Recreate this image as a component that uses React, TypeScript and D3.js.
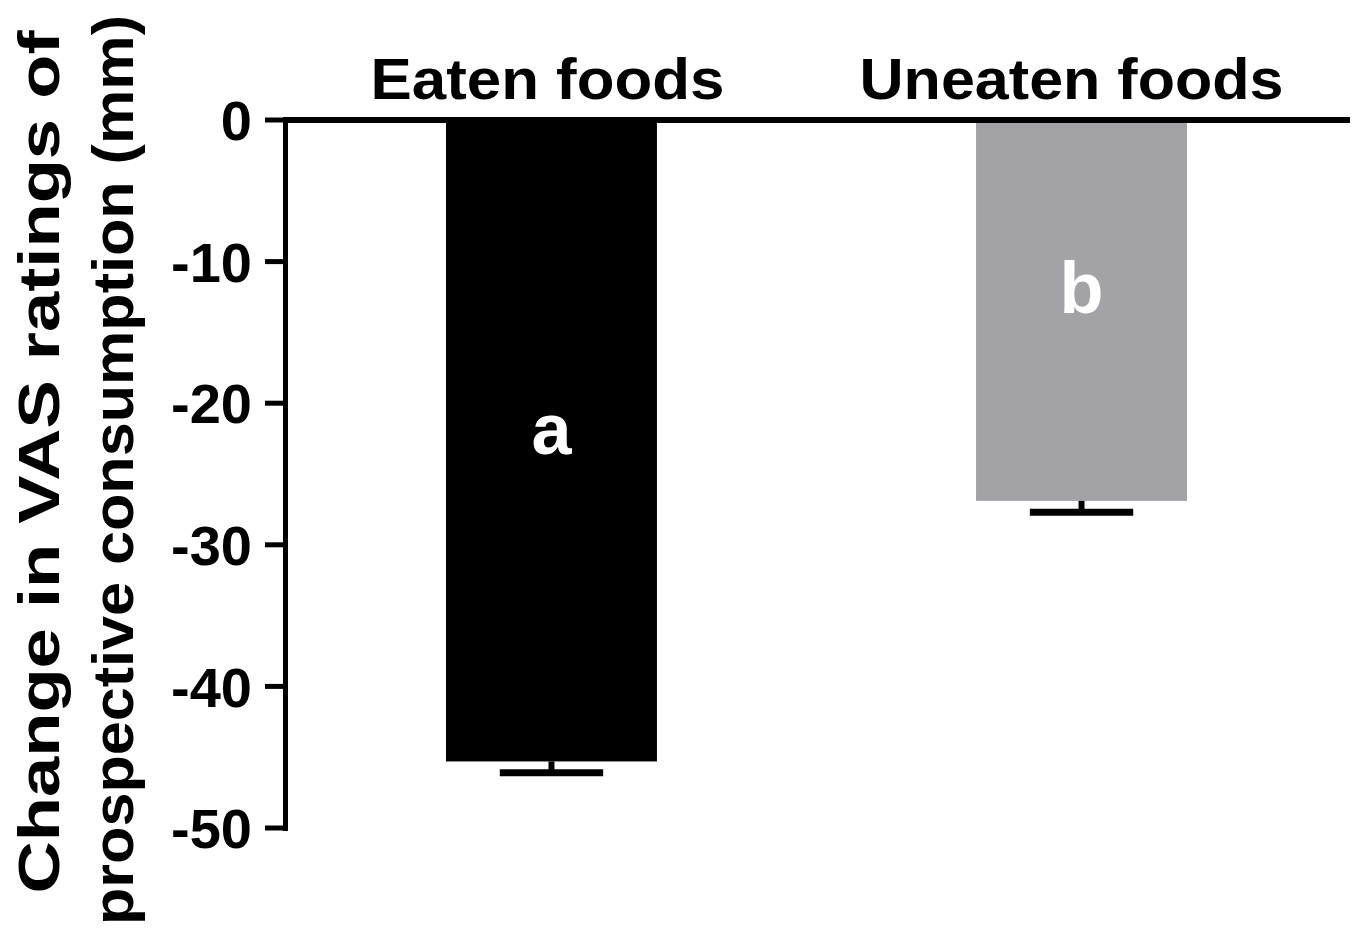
import React from "react";
import * as d3 from "d3";

const categories = ["Eaten foods", "Uneaten foods"];
const means = [-45.3, -26.9];
const sems = [0.8, 0.8];
const barColors = ["#000000", "#a3a3a7"];
const groupLetters = ["a", "b"];
const letterBaselines = [-23.6, -13.6];
const yTicks = [0, -10, -20, -30, -40, -50];
const yTitleLines = ["Change in VAS ratings of", "prospective consumption (mm)"];

const W = 1358;
const H = 935;
const FONT = "'Liberation Sans', Arial, Helvetica, sans-serif";

export default function App() {
  const y = d3.scaleLinear().domain([-50, 0]).range([828, 120]);
  const x = d3
    .scaleBand<string>()
    .domain(categories)
    .range([283, 1350])
    .paddingInner(0.602)
    .paddingOuter(0.3075);
  const bw = x.bandwidth();
  const capW = bw * 0.49;
  const labelShift = [-4, -10];
  const labelLen = [354, 424];

  return (
    <svg
      width={W}
      height={H}
      style={{ position: "absolute", left: 0, top: 0, background: "#fff" }}
      fontFamily={FONT}
      fontWeight="bold"
    >
      {/* bars */}
      {categories.map((c, i) => {
        const x0 = x(c)!;
        const cx = x0 + bw / 2;
        const yb = y(means[i]);
        const ye = y(means[i] - sems[i]);
        return (
          <g key={c}>
            <rect x={x0} y={y(0)} width={bw} height={yb - y(0)} fill={barColors[i]} />
            <line x1={cx} x2={cx} y1={yb} y2={ye} stroke="#000" strokeWidth={6} />
            <line x1={cx - capW / 2} x2={cx + capW / 2} y1={ye} y2={ye} stroke="#000" strokeWidth={7} />
            <text
              x={cx}
              y={y(letterBaselines[i])}
              textAnchor="middle"
              fill="#fff"
              fontSize={72}
            >
              {groupLetters[i]}
            </text>
            <text
              x={cx + labelShift[i]}
              y={99}
              textAnchor="middle"
              fill="#000"
              fontSize={58}
              textLength={labelLen[i]}
              lengthAdjust="spacingAndGlyphs"
            >
              {c}
            </text>
          </g>
        );
      })}
      {/* x axis line at zero */}
      <line x1={283} x2={1350} y1={y(0)} y2={y(0)} stroke="#000" strokeWidth={6} />
      {/* y axis */}
      <line x1={285.5} x2={285.5} y1={y(0) - 3} y2={y(-50) + 3} stroke="#000" strokeWidth={5} />
      {yTicks.map((t) => (
        <g key={t}>
          <line x1={265} x2={286} y1={y(t)} y2={y(t)} stroke="#000" strokeWidth={5} />
          <text x={252} y={y(t)} dy="0.36em" textAnchor="end" fontSize={56} fill="#000">
            {t}
          </text>
        </g>
      ))}
      {/* y title */}
      {yTitleLines.map((l, i) => (
        <text
          key={l}
          transform={`translate(${i === 0 ? 59 : 133}, ${i === 0 ? 462 : 470}) rotate(-90)`}
          textAnchor="middle"
          fontSize={58}
          fill="#000"
          textLength={i === 0 ? 863 : 910}
          lengthAdjust="spacingAndGlyphs"
        >
          {l}
        </text>
      ))}
    </svg>
  );
}
